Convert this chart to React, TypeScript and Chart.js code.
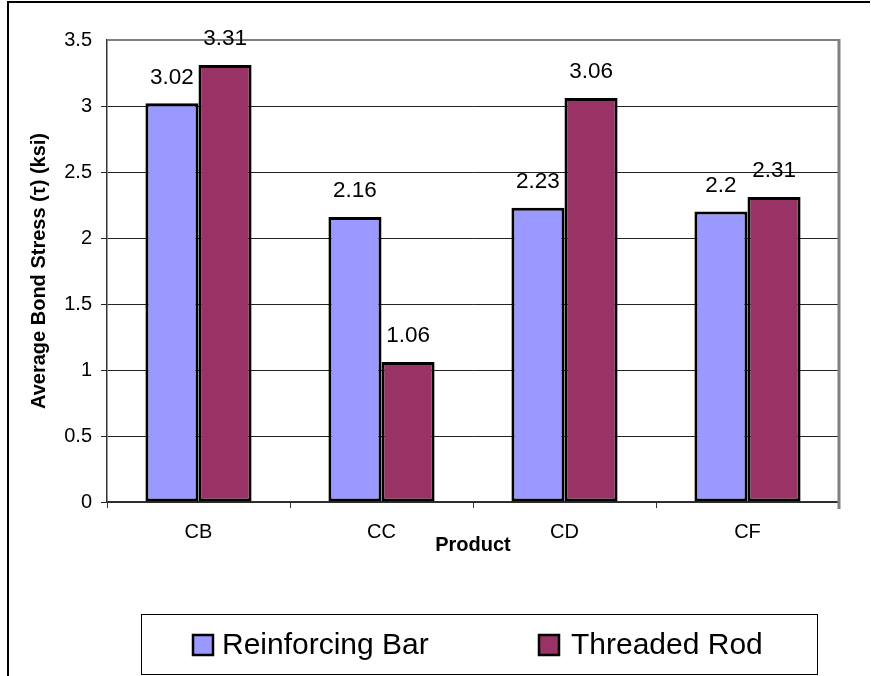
import React, { useEffect, useRef } from 'react';
import { Chart, registerables } from 'chart.js';

Chart.register(...registerables);

const categories = ['CB', 'CC', 'CD', 'CF'];
const reinforcingBar = [3.02, 2.16, 2.23, 2.2];
const threadedRod = [3.31, 1.06, 3.06, 2.31];
const seriesNames = ['Reinforcing Bar', 'Threaded Rod'];
const seriesColors = ['#9999FF', '#993366'];
const yTickValues = [0, 0.5, 1, 1.5, 2, 2.5, 3, 3.5];
const yTickLabels = ['0', '0.5', '1', '1.5', '2', '2.5', '3', '3.5'];
const yTitle = 'Average Bond Stress (τ) (ksi)';
const xTitle = 'Product';

const FONT = '"Liberation Sans", Arial, Helvetica, sans-serif';

const framePlugin = {
  id: 'frame',
  beforeDraw(chart: any) {
    const ctx = chart.ctx;
    ctx.save();
    ctx.fillStyle = '#ffffff';
    ctx.fillRect(0, 0, chart.width, chart.height);
    ctx.strokeStyle = '#000000';
    ctx.lineWidth = 2;
    ctx.beginPath();
    ctx.moveTo(7, 2);
    ctx.lineTo(870, 2);
    ctx.moveTo(8, 2);
    ctx.lineTo(8, chart.height);
    ctx.stroke();
    ctx.restore();
  },
  beforeDatasetsDraw(chart: any) {
    const { ctx, chartArea } = chart;
    ctx.save();
    ctx.strokeStyle = '#808080';
    ctx.lineWidth = 2;
    ctx.beginPath();
    ctx.moveTo(chartArea.left, chartArea.top);
    ctx.lineTo(chartArea.right, chartArea.top);
    ctx.stroke();
    ctx.lineWidth = 3;
    ctx.beginPath();
    ctx.moveTo(chartArea.right, chartArea.top - 1);
    ctx.lineTo(chartArea.right, chartArea.bottom + 7);
    ctx.stroke();
    ctx.restore();
  },
};

const labelPlugin = {
  id: 'valueLabels',
  afterDatasetsDraw(chart: any) {
    const ctx = chart.ctx;
    ctx.save();
    ctx.fillStyle = '#000000';
    ctx.font = `22.5px ${FONT}`;
    ctx.textAlign = 'center';
    ctx.textBaseline = 'middle';
    chart.data.datasets.forEach((ds: any, di: number) => {
      const meta = chart.getDatasetMeta(di);
      meta.data.forEach((bar: any, i: number) => {
        ctx.fillText(String(ds.data[i]), bar.x, bar.y - 26);
      });
    });
    ctx.restore();
  },
};

const legendPlugin = {
  id: 'boxLegend',
  afterDraw(chart: any) {
    const ctx = chart.ctx;
    ctx.save();
    ctx.strokeStyle = '#000000';
    ctx.lineWidth = 1;
    ctx.strokeRect(141.5, 614.5, 676, 60);
    const swatchX = [193, 539];
    const textX = [222, 571];
    ctx.font = `30px ${FONT}`;
    ctx.textAlign = 'left';
    ctx.textBaseline = 'middle';
    chart.data.datasets.forEach((ds: any, i: number) => {
      ctx.fillStyle = ds.backgroundColor;
      ctx.fillRect(swatchX[i], 635, 20, 20);
      ctx.lineWidth = 2.5;
      ctx.strokeStyle = '#000000';
      ctx.strokeRect(swatchX[i], 635, 20, 20);
      ctx.fillStyle = '#000000';
      ctx.fillText(ds.label, textX[i], 646);
    });
    ctx.restore();
  },
};

export default function App() {
  const canvasRef = useRef<HTMLCanvasElement | null>(null);

  useEffect(() => {
    if (!canvasRef.current) return;
    const chart = new Chart(canvasRef.current, {
      type: 'bar',
      data: {
        labels: categories,
        datasets: [
          {
            label: seriesNames[0],
            data: reinforcingBar,
            backgroundColor: seriesColors[0],
            borderColor: '#000000',
            borderWidth: 3,
            borderSkipped: false,
          },
          {
            label: seriesNames[1],
            data: threadedRod,
            backgroundColor: seriesColors[1],
            borderColor: '#000000',
            borderWidth: 3,
            borderSkipped: false,
          },
        ],
      },
      options: {
        animation: false,
        responsive: false,
        maintainAspectRatio: false,
        layout: { padding: { left: 0, top: 40, right: 32, bottom: 0 } },
        datasets: {
          bar: { categoryPercentage: 0.58, barPercentage: 1 },
        },
        plugins: {
          legend: { display: false },
          tooltip: { enabled: false },
          title: { display: false },
        },
        scales: {
          x: {
            offset: true,
            grid: {
              offset: true,
              drawOnChartArea: false,
              drawTicks: true,
              tickLength: 6,
              color: '#333333',
            },
            border: { display: true, color: '#333333', width: 1.5 },
            ticks: {
              color: '#000000',
              font: { family: FONT, size: 20 },
              padding: 12,
            },
            title: {
              display: true,
              text: xTitle,
              color: '#000000',
              font: { family: FONT, size: 20, weight: 'bold' },
              padding: { top: 0, bottom: 119 },
            },
            afterFit(scale: any) {
              scale.height = 174;
            },
          },
          y: {
            min: 0,
            max: 3.5,
            afterBuildTicks(scale: any) {
              scale.ticks = yTickValues.map((v) => ({ value: v }));
            },
            grid: {
              drawOnChartArea: true,
              tickLength: 6,
              color: (c: any) => (c.tick && c.tick.value === 3.5 ? 'rgba(0,0,0,0)' : '#222222'),
              lineWidth: 1,
            },
            border: { display: true, color: '#333333', width: 1.5 },
            ticks: {
              color: '#000000',
              font: { family: FONT, size: 20 },
              padding: 9,
              callback: (value: any) => {
                const idx = yTickValues.indexOf(Number(value));
                return idx >= 0 ? yTickLabels[idx] : String(value);
              },
            },
            title: {
              display: true,
              text: yTitle,
              color: '#000000',
              font: { family: FONT, size: 20, weight: 'bold' },
              padding: { top: 27, bottom: 0 },
            },
            afterFit(scale: any) {
              scale.width = 107;
            },
          },
        },
      },
      plugins: [framePlugin, labelPlugin, legendPlugin],
    } as any);
    return () => chart.destroy();
  }, []);

  return (
    <div style={{ position: 'absolute', left: 0, top: 0, width: 871, height: 676 }}>
      <canvas ref={canvasRef} width={871} height={676} style={{ display: 'block' }} />
    </div>
  );
}
